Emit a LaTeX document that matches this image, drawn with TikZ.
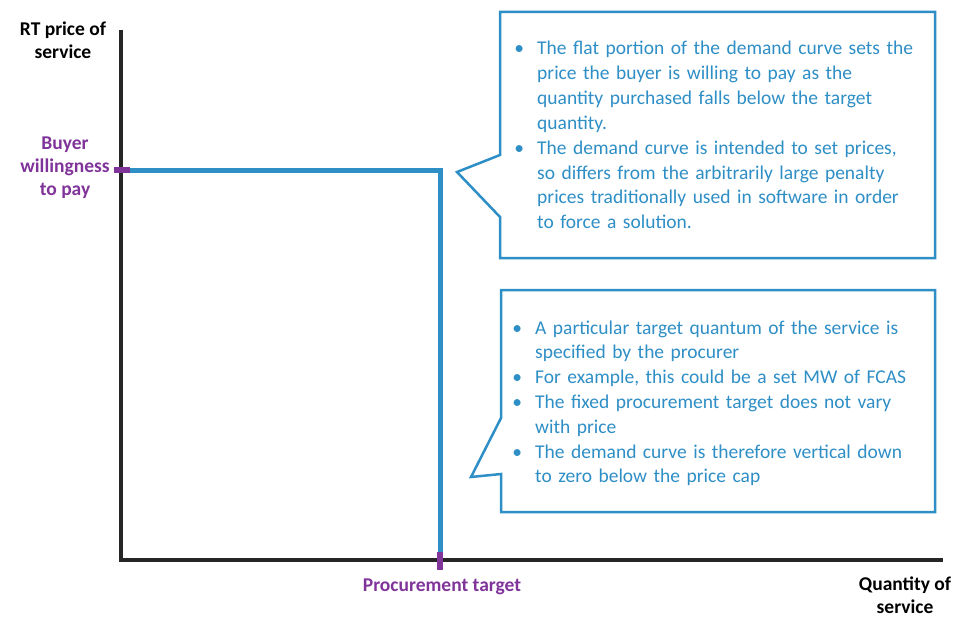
\documentclass[tikz,border=0pt]{standalone}
\usepackage{fontspec}
\setmainfont{Carlito}
\usepackage{enumitem}
\usepackage{tikz}
\usetikzlibrary{positioning}

\definecolor{curveblue}{RGB}{46,142,198}
\definecolor{tickpurple}{RGB}{128,52,154}
\definecolor{axisgray}{RGB}{38,38,38}

\tikzset{
	axis/.style={line width=4pt,draw=axisgray},
	curve/.style={line width=5pt,draw=curveblue},
	tick/.style={line width=6pt,draw=tickpurple},
	callout/.style={line width=2.5pt,draw=curveblue,fill=white,line join=miter},
	axislabel/.style={font=\fontsize{19.5}{23}\selectfont\bfseries,align=center,inner sep=0pt},
	notetext/.style={anchor=north west,inner sep=0pt,text width=420pt,text=curveblue,
	                 font=\fontsize{19.5}{24.8}\selectfont}
}

\newcommand{\notelist}[1]{%
	\begin{itemize}[label={•},labelsep=13pt,leftmargin=27pt,nosep]#1\end{itemize}}

\begin{document}
\begin{tikzpicture}[x=1pt,y=-1pt]
	\useasboundingbox (0,0) rectangle (957,618);

	% axes
	\coordinate (o) at (121,560);
	\coordinate (ytop) at (121,30);
	\coordinate (xend) at (943,560);
	\draw[axis] (ytop) -- (121,562);
	\draw[axis] (119,560) -- (xend);

	% demand curve
	\coordinate (bwp) at (121,170);
	\coordinate (corner) at (440,170);
	\coordinate (pt) at (440,560);
	\draw[curve] (bwp) -- (corner) -- (pt);
	\draw[tick] (114,170) -- (130,170);
	\draw[tick] (440,552) -- (440,570);

	% labels
	\node[axislabel] (ylab) at (63,40) {RT price of\\service};
	\node[axislabel,text=tickpurple] (bwplab) at (65,168) {Buyer\\willingness\\to pay};
	\node[axislabel,text=tickpurple] (ptlab) at (442,587) {Procurement target};
	\node[axislabel] (xlab) at (905,595) {Quantity of\\service};

	% callouts
	\draw[callout] (500,12) -- (935,12) -- (935,258) -- (500,258) -- (500,217)
		-- (457,172) -- (500,155) -- cycle;
	\draw[callout] (501,290) -- (935,290) -- (935,512) -- (501,512) -- (501,474)
		-- (471,477) -- (501,418) -- cycle;

	\node[notetext] (note1) at (510,30) {\notelist{%
		\item The flat portion of the demand curve sets the\newline
		price the buyer is willing to pay as the\newline
		quantity purchased falls below the target\newline
		quantity.
		\item The demand curve is intended to set prices,\newline
		so differs from the arbitrarily large penalty\newline
		prices traditionally used in software in order\newline
		to force a solution.}};
	\node[notetext] (note2) at (508,309) {\notelist{%
		\item A particular target quantum of the service is\newline
		specified by the procurer
		\item For example, this could be a set MW of FCAS
		\item The fixed procurement target does not vary\newline
		with price
		\item The demand curve is therefore vertical down\newline
		to zero below the price cap}};
\end{tikzpicture}
\end{document}
